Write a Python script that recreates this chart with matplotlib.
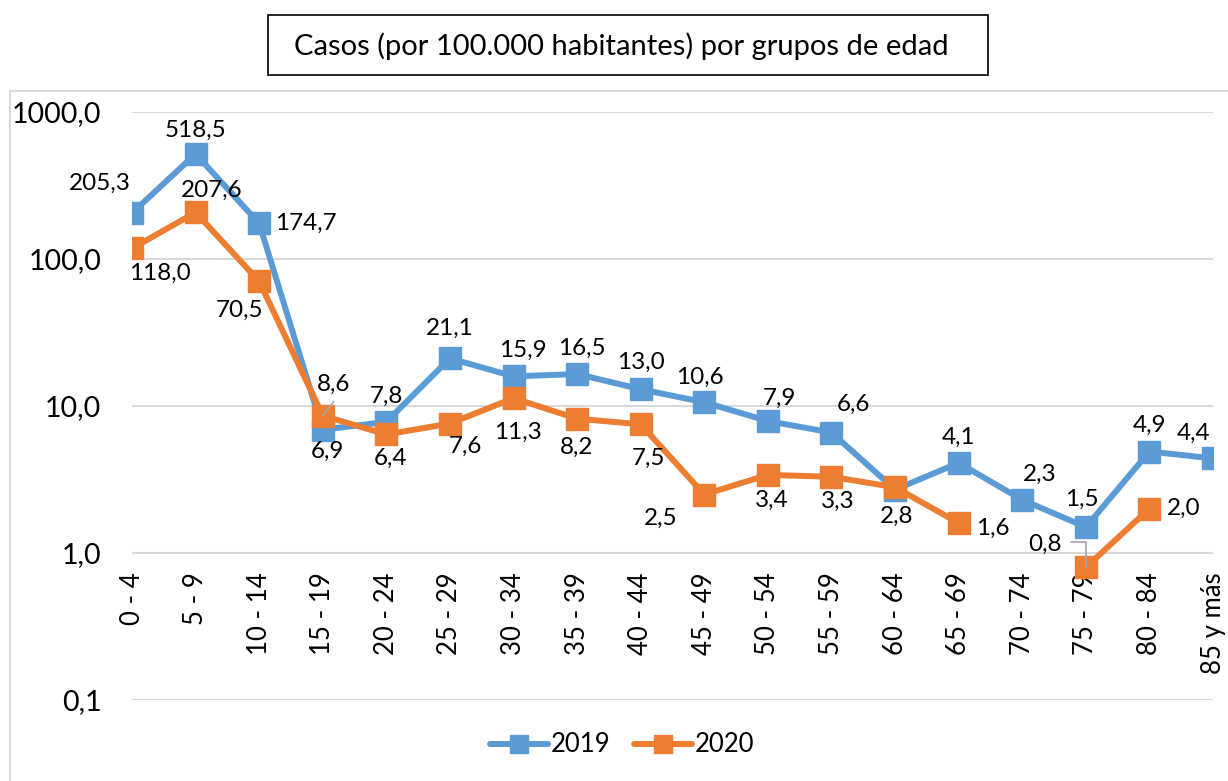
import numpy as np
import matplotlib.pyplot as plt
from matplotlib.patches import Rectangle
from matplotlib.lines import Line2D

plt.rcParams['font.family'] = ['Lato', 'DejaVu Sans']

# data
grupos = ["0 - 4", "5 - 9", "10 - 14", "15 - 19", "20 - 24", "25 - 29", "30 - 34",
          "35 - 39", "40 - 44", "45 - 49", "50 - 54", "55 - 59", "60 - 64",
          "65 - 69", "70 - 74", "75 - 79", "80 - 84", "85 y más"]
casos_2019 = [205.3, 518.5, 174.7, 6.9, 7.8, 21.1, 15.9, 16.5, 13.0, 10.6,
              7.9, 6.6, 2.7, 4.1, 2.3, 1.5, 4.9, 4.4]
casos_2020 = [118.0, 207.6, 70.5, 8.6, 6.4, 7.6, 11.3, 8.2, 7.5, 2.5,
              3.4, 3.3, 2.8, 1.6, np.nan, 0.8, 2.0, np.nan]
y_ticks = [0.1, 1, 10, 100, 1000]
y_labels = ["0,1", "1,0", "10,0", "100,0", "1000,0"]

# label offsets in pixels (dx, dy), None = no label
off_2019 = [(-32, 30), (0, 24), (47, 0), (5, -22), (0, 26), (0, 30), (9, 26),
            (5, 26), (0, 27), (-4, 25), (12, 23), (22, 28), None, (0, 26),
            (17, 25), (-4, 28), (0, 26), (-19, 25)]
off_2020 = [(28, -25), (16, 22), (-20, -29), (11, 31), (4, -24), (15, -23),
            (4, -34), (0, -29), (8, -34), (-44, -24), (4, -25), (6, -25),
            (2, -29), (34, -5), None, (-41, 23), (34, 0), None]

azul = "#5B9BD5"
naranja = "#ED7D31"

fig = plt.figure(figsize=(12.28, 7.81), dpi=100)
ax = fig.add_axes([132 / 1228, 1 - 700 / 781, (1213 - 132) / 1228, (700 - 112) / 781])

x = np.arange(len(grupos))
ax.plot(x, casos_2019, color=azul, lw=4.3, marker='s', ms=15.5, label="2019", zorder=3,
        solid_capstyle='round')
ax.plot(x, casos_2020, color=naranja, lw=4.3, marker='s', ms=15.5, label="2020", zorder=4,
        solid_capstyle='round')

ax.set_yscale('log')
ax.set_ylim(0.1, 1000)
ax.set_xlim(0, len(grupos) - 1)
ax.set_yticks(y_ticks)
ax.set_yticklabels(y_labels, fontsize=20.5)
ax.minorticks_off()
ax.set_xticks([])
ax.tick_params(axis='y', length=0, pad=22)
ax.grid(axis='y', color='#d9d9d9', lw=1.5)
for s in ax.spines.values():
    s.set_visible(False)

# category labels inside the plot, below the 1,0 line
for i, g in enumerate(grupos):
    ax.text(i, 0.74, g, rotation=90, ha='center', va='top', fontsize=18.5, clip_on=False)

def fmt(v):
    return f"{v:.1f}".replace(".", ",")

for serie, offs in [(casos_2019, off_2019), (casos_2020, off_2020)]:
    for i, (v, o) in enumerate(zip(serie, offs)):
        if o is None or np.isnan(v):
            continue
        ax.annotate(fmt(v), (i, v), xytext=o, textcoords='offset pixels',
                    ha='center', va='center', fontsize=17.5, zorder=6)

# leader lines
ax.annotate("", (3, 8.6), xytext=(11, 14), textcoords='offset pixels',
            arrowprops=dict(arrowstyle='-', color='#a6a6a6', lw=1.2, shrinkA=0, shrinkB=0), zorder=7)
ax.annotate("", (15, 0.8), xytext=(-15, 25), textcoords='offset pixels',
            arrowprops=dict(arrowstyle='-', color='#a6a6a6', lw=1.2, shrinkA=0, shrinkB=0,
                            connectionstyle='angle,angleA=0,angleB=90,rad=0'), zorder=7)

# legend
fig.legend(loc='center', bbox_to_anchor=(622 / 1228, 1 - 745 / 781), ncol=2,
           frameon=False, fontsize=18.5, handlelength=2.25, columnspacing=0.9,
           handletextpad=0.12, markerscale=0.82)

# title box
fig.patches.append(Rectangle((268 / 1228, 1 - 75 / 781), 720 / 1228, 60 / 781,
                             transform=fig.transFigure, fill=False, ec='black', lw=1.2))
fig.text(621 / 1228, 1 - 46 / 781, "Casos (por 100.000 habitantes) por grupos de edad",
         ha='center', va='center', fontsize=21)

# chart area border
fig.add_artist(Line2D([10 / 1228, 10 / 1228], [0, 1 - 91 / 781], transform=fig.transFigure,
                      color='#d9d9d9', lw=1.5))
fig.add_artist(Line2D([10 / 1228, 1], [1 - 91 / 781, 1 - 91 / 781], transform=fig.transFigure,
                      color='#d9d9d9', lw=1.5))

plt.savefig("out.png", dpi=100)
plt.close()
